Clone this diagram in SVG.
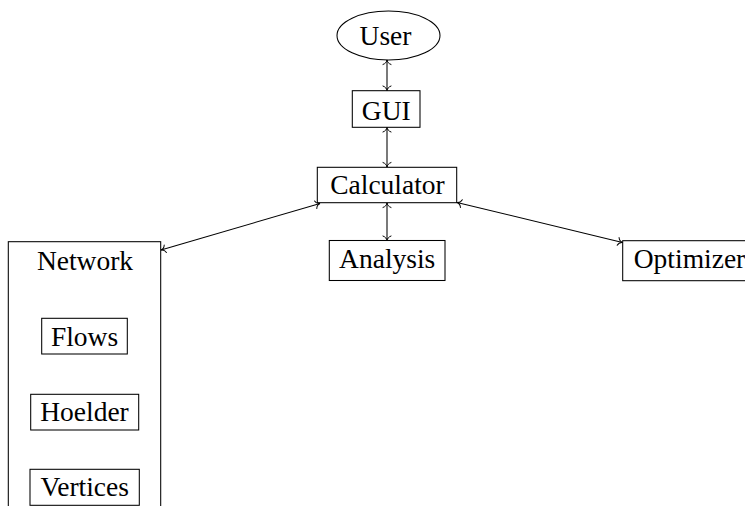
<svg xmlns="http://www.w3.org/2000/svg" width="745" height="506" viewBox="0 0 745 506">
<defs>
<style>
.box{fill:none;stroke:#000;stroke-width:1.05}
.lbl{font-size:27.5px;fill:#000;text-anchor:middle}
.edge{fill:none;stroke:#000;stroke-width:1.05;marker-start:url(#tip);marker-end:url(#tip)}
</style>
<marker id="tip" viewBox="-6 -5 8 10" refX="0" refY="0" markerWidth="8" markerHeight="10" markerUnits="userSpaceOnUse" orient="auto-start-reverse">
<path d="M -4.5 -4 C -3.8 -1.6 -1.5 -0.2 0 0 C -1.5 0.2 -3.8 1.6 -4.5 4" fill="none" stroke="#000" stroke-width="1" stroke-linecap="round"/>
</marker>
</defs>
<rect width="745" height="506" fill="#fff"/>
<g id="connectors">
<line class="edge" x1="387" y1="60" x2="387" y2="90.5"/>
<line class="edge" x1="387" y1="127.5" x2="387" y2="167"/>
<line class="edge" x1="387" y1="203" x2="387" y2="240.5"/>
<line class="edge" x1="320" y1="203.5" x2="161" y2="250"/>
<line class="edge" x1="457" y1="202.5" x2="622.5" y2="242.5"/>
</g>
<g id="user">
<ellipse class="box" cx="388.5" cy="35.5" rx="51.5" ry="24.5"/>
<text class="lbl" font-family="Liberation Serif" x="385.5" y="45">User</text>
</g>
<g id="gui">
<rect class="box" x="352.3" y="90.7" width="67.7" height="36.6"/>
<text class="lbl" font-family="Liberation Serif" x="386.3" y="120">GUI</text>
</g>
<g id="calculator">
<rect class="box" x="317.3" y="167.3" width="139.4" height="35.4"/>
<text class="lbl" font-family="Liberation Serif" x="387.5" y="194.3">Calculator</text>
</g>
<g id="analysis">
<rect class="box" x="329.3" y="240.5" width="115.7" height="40"/>
<text class="lbl" font-family="Liberation Serif" x="387.2" y="268">Analysis</text>
</g>
<g id="optimizer">
<rect class="box" x="622.7" y="240.7" width="140" height="40"/>
<text class="lbl" font-family="Liberation Serif" x="689.5" y="268">Optimizer</text>
</g>
<g id="network">
<rect class="box" x="8.3" y="241.7" width="152.4" height="290"/>
<text class="lbl" font-family="Liberation Serif" x="85" y="270">Network</text>
</g>
<g id="flows">
<rect class="box" x="41.7" y="318.3" width="85.6" height="35.7"/>
<text class="lbl" font-family="Liberation Serif" x="84.5" y="345.7">Flows</text>
</g>
<g id="hoelder">
<rect class="box" x="30.7" y="394.3" width="108" height="35.7"/>
<text class="lbl" font-family="Liberation Serif" x="84.5" y="420.7">Hoelder</text>
</g>
<g id="vertices">
<rect class="box" x="30" y="469.3" width="109.3" height="36"/>
<text class="lbl" font-family="Liberation Serif" x="84.7" y="496">Vertices</text>
</g>
</svg>
